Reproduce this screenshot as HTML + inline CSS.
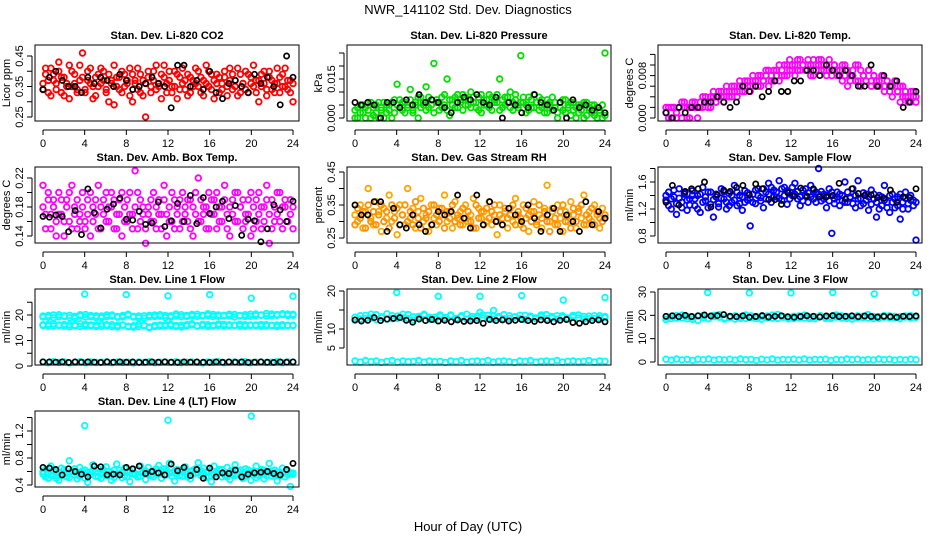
<!DOCTYPE html>
<html><head><meta charset="utf-8">
<style>
html,body{margin:0;padding:0;background:#fff;}
svg{display:block;font-family:"Liberation Sans",Arial,sans-serif;}
</style></head>
<body>
<svg id="chart" width="936" height="540" viewBox="0 0 936 540" xmlns="http://www.w3.org/2000/svg">
<rect x="0" y="0" width="936" height="540" fill="#fff"/>
<text x="468" y="14" text-anchor="middle" font-size="13">NWR_141102 Std. Dev. Diagnostics</text>
<text x="468" y="531" text-anchor="middle" font-size="13">Hour of Day (UTC)</text>
</svg>
<script>
// ---- data ----
const xTicks=[0,4,8,12,16,20,24];
const co2Red=[.36,.39,.33,.41,.37,.34,.40,.38,.32,.36,.42,.35,.39,.33,.37,.46,.34,.40,.36,.31,.38,.35,.41,.37,.33,.39,.36,.29,.38,.34,.40,.35,.37,.32,.39,.36,.41,.33,.37,.25,.38,.35,.40,.34,.36,.39,.42,.33,.37,.35,.40,.31,.38,.36,.34,.39,.33,.37,.41,.35,.38,.32,.36,.40,.34,.37,.39,.33,.36,.38,.35,.41,.34,.37,.32,.39,.36,.40,.33,.38,.35,.37,.30,.39,.36,.34,.40,.37,.33,.36,.38,.35,.41,.34,.37,.30];
const co2Red2=[.34,.41,.37,.32,.39,.36,.43,.33,.38,.35,.31,.40,.36,.34,.42,.38,.33,.37,.41,.35,.32,.39,.36,.40,.34,.30,.37,.42,.35,.38,.33,.39,.36,.41,.30,.37,.34,.39,.32,.36,.40,.33,.37,.42,.35,.31,.38,.36,.40,.33,.35,.39,.34,.41,.37,.32,.38,.35,.36,.40,.33,.37,.42,.35,.39,.31,.36,.38,.34,.40,.32,.37,.39,.35,.41,.33,.36,.34,.39,.36,.42,.33,.37,.35,.40,.32,.38,.34,.36,.41,.33,.39,.35,.37,.33,.36];
const co2Black=[.34,.38,.40,.37,.35,.35,.33,.38,.36,.38,.37,.35,.39,.37,.34,.35,.36,.38,.36,.35,.28,.42,.42,.35,.37,.34,.40,.33,.31,.36,.37,.35,.33,.39,.36,.38,.35,.29,.45,.38];
const presGreen=[.000,.004,.002,.005,.000,.003,.006,.001,.005,.000,.004,.006,.002,.005,.000,.007,.013,.004,.006,.002,.005,.011,.003,.006,.000,.008,.005,.012,.004,.007,.021,.006,.003,.008,.005,.015,.001,.007,.004,.009,.006,.003,.008,.005,.010,.006,.004,.008,.002,.007,.005,.009,.003,.007,.006,.015,.004,.008,.006,.010,.003,.007,.005,.024,.006,.002,.008,.004,.009,.006,.003,.007,.005,.002,.006,.008,.004,.000,.006,.003,.007,.005,.001,.006,.004,.002,.005,.000,.006,.003,.005,.001,.004,.002,.000,.025];
const presGreen2=[.003,.000,.005,.002,.004,.006,.000,.004,.002,.006,.003,.000,.005,.003,.006,.002,.005,.007,.003,.006,.004,.007,.002,.005,.008,.004,.006,.003,.008,.005,.002,.007,.006,.004,.009,.003,.007,.005,.008,.004,.007,.009,.005,.007,.004,.008,.006,.003,.009,.005,.007,.004,.008,.006,.009,.003,.007,.005,.008,.004,.006,.009,.004,.006,.008,.005,.003,.007,.004,.006,.008,.004,.002,.007,.005,.003,.006,.002,.004,.007,.002,.004,.006,.003,.000,.005,.003,.006,.001,.004,.002,.005,.000,.003,.005,.001];
const presBlack=[.006,.005,.006,.005,.000,.006,.006,.004,.007,.005,.009,.006,.007,.006,.004,.002,.006,.008,.007,.009,.006,.005,.008,.000,.006,.005,.002,.004,.009,.006,.005,.003,.006,.000,.007,.004,.005,.003,.004,.002];
const tempMag=[.002,.000,.002,.002,.000,.002,.003,.002,.000,.002,.003,.002,.000,.003,.002,.004,.003,.002,.004,.003,.005,.004,.003,.005,.004,.006,.005,.004,.006,.005,.007,.006,.005,.007,.006,.008,.006,.007,.009,.006,.008,.007,.009,.007,.008,.010,.008,.009,.010,.008,.011,.009,.010,.009,.011,.010,.008,.010,.011,.009,.010,.008,.011,.009,.010,.008,.009,.007,.010,.006,.008,.009,.007,.010,.006,.008,.007,.009,.006,.008,.007,.006,.008,.005,.007,.006,.004,.007,.005,.003,.006,.004,.003,.005,.004,.003];
const tempMag2=[.001,.002,.000,.002,.001,.002,.000,.003,.002,.000,.002,.003,.002,.002,.004,.003,.002,.004,.005,.003,.004,.005,.004,.006,.005,.004,.006,.005,.007,.006,.005,.007,.006,.008,.007,.006,.008,.007,.008,.009,.007,.009,.008,.010,.009,.008,.010,.011,.009,.010,.009,.011,.010,.009,.010,.008,.011,.009,.010,.011,.009,.010,.009,.008,.010,.009,.008,.010,.008,.009,.007,.008,.010,.007,.009,.008,.007,.009,.007,.008,.006,.007,.008,.006,.007,.005,.006,.007,.005,.006,.004,.005,.004,.003,.005,.004];
const tempBlack=[.001,.000,.002,.001,.002,.002,.003,.003,.004,.003,.002,.003,.006,.005,.006,.004,.005,.007,.005,.005,.007,.007,.009,.009,.008,.010,.009,.008,.009,.008,.006,.006,.010,.006,.008,.006,.007,.002,.003,.005];
const ambMag=[.21,.17,.19,.15,.18,.16,.20,.17,.14,.19,.16,.21,.18,.15,.17,.20,.16,.19,.14,.18,.17,.21,.15,.19,.16,.18,.20,.15,.17,.19,.14,.18,.16,.20,.17,.23,.15,.19,.17,.13,.18,.16,.20,.15,.19,.17,.21,.14,.18,.16,.19,.17,.15,.20,.18,.16,.19,.14,.17,.22,.16,.18,.15,.20,.17,.19,.15,.18,.16,.21,.17,.14,.19,.16,.20,.18,.15,.17,.19,.14,.18,.16,.20,.15,.18,.21,.13,.19,.16,.17,.20,.15,.18,.16,.19,.15];
const ambMag2=[.18,.15,.20,.17,.19,.14,.17,.19,.16,.18,.20,.15,.17,.19,.16,.18,.15,.17,.20,.16,.19,.15,.18,.17,.20,.16,.18,.19,.15,.17,.20,.16,.19,.17,.15,.18,.20,.16,.18,.15,.17,.19,.16,.18,.17,.15,.19,.17,.16,.20,.15,.18,.19,.16,.17,.19,.15,.18,.20,.16,.19,.17,.18,.15,.19,.17,.20,.16,.18,.19,.15,.18,.17,.20,.16,.18,.19,.16,.17,.20,.15,.19,.17,.18,.16,.19,.17,.15,.18,.20,.16,.18,.19,.16,.17,.18];
const ambBlack=[.167,.166,.169,.167,.146,.175,.142,.205,.172,.151,.177,.184,.192,.163,.162,.174,.156,.158,.187,.153,.161,.185,.160,.196,.157,.193,.171,.180,.188,.164,.182,.141,.163,.161,.132,.150,.183,.176,.160,.188];
const rhOrange=[.32,.30,.35,.28,.33,.40,.31,.29,.36,.33,.27,.34,.31,.38,.30,.33,.26,.35,.32,.29,.40,.31,.34,.28,.33,.37,.30,.32,.27,.35,.31,.29,.34,.32,.38,.30,.33,.28,.36,.31,.33,.29,.35,.30,.32,.37,.28,.34,.31,.33,.30,.36,.29,.32,.26,.35,.31,.33,.28,.34,.30,.37,.32,.29,.35,.31,.27,.33,.36,.30,.32,.28,.34,.41,.30,.33,.29,.35,.31,.27,.33,.30,.36,.32,.28,.34,.31,.38,.29,.33,.30,.35,.32,.28,.34,.31];
const rhOrange2=[.29,.34,.31,.33,.28,.35,.30,.33,.29,.32,.35,.30,.33,.28,.35,.31,.34,.29,.32,.35,.30,.33,.29,.36,.31,.28,.34,.31,.33,.29,.35,.32,.30,.34,.28,.33,.31,.35,.30,.32,.29,.34,.31,.33,.30,.28,.35,.31,.33,.29,.34,.31,.33,.35,.30,.32,.29,.34,.31,.32,.35,.29,.33,.31,.28,.34,.32,.30,.33,.29,.35,.31,.33,.30,.27,.34,.31,.29,.33,.35,.30,.32,.28,.34,.30,.33,.35,.29,.32,.31,.34,.29,.33,.31,.30,.32];
const rhBlack=[.35,.32,.32,.36,.36,.27,.34,.29,.28,.32,.29,.27,.29,.33,.32,.33,.38,.31,.28,.38,.29,.36,.30,.29,.34,.32,.30,.35,.31,.27,.32,.34,.27,.32,.30,.27,.36,.29,.33,.31];
const flowBlue=[1.33,1.45,1.20,1.38,1.12,1.50,1.30,1.42,1.18,1.35,1.47,1.25,1.40,1.15,1.52,1.32,1.22,1.45,1.08,1.38,1.28,1.50,1.35,1.20,1.43,1.30,1.55,1.25,1.40,1.18,1.47,1.33,0.95,1.42,1.28,1.50,1.37,1.22,1.45,1.58,1.30,1.48,1.38,1.62,1.33,1.52,1.27,1.45,1.40,1.58,1.35,1.25,1.48,1.40,1.30,1.55,1.35,1.45,1.80,1.32,1.42,1.22,1.50,0.84,1.35,1.45,1.25,1.40,1.60,1.30,1.38,1.50,1.22,1.62,1.35,1.28,1.42,1.18,1.48,1.35,1.08,1.40,1.25,1.55,1.30,1.15,1.42,1.22,1.38,1.05,1.30,1.45,1.20,1.33,1.25,0.74];
const flowBlue2=[1.40,1.25,1.35,1.48,1.28,1.36,1.22,1.44,1.33,1.26,1.40,1.35,1.20,1.42,1.30,1.38,1.45,1.27,1.34,1.42,1.23,1.36,1.46,1.30,1.25,1.40,1.33,1.45,1.28,1.38,1.30,1.44,1.36,1.30,1.48,1.40,1.32,1.50,1.35,1.42,1.52,1.38,1.45,1.36,1.50,1.40,1.47,1.35,1.52,1.42,1.46,1.38,1.32,1.50,1.44,1.38,1.48,1.30,1.42,1.46,1.35,1.40,1.32,1.45,1.28,1.38,1.42,1.32,1.30,1.45,1.36,1.28,1.40,1.35,1.25,1.44,1.33,1.38,1.27,1.42,1.30,1.20,1.38,1.33,1.22,1.40,1.30,1.35,1.25,1.42,1.20,1.36,1.28,1.40,1.33,1.30];
const flowBlack=[1.30,1.55,1.26,1.46,1.50,1.50,1.60,1.23,1.41,1.48,1.46,1.52,1.55,1.41,1.57,1.50,1.34,1.34,1.27,1.44,1.39,1.51,1.39,1.50,1.38,1.38,1.40,1.58,1.35,1.50,1.43,1.40,1.41,1.37,1.36,1.48,1.30,1.38,1.37,1.50];
const line1Upper=[19.2,19.8,18.9,20.1,19.4,19.9,18.8,19.6,20.2,19.3,19.7,18.9,20.0,19.5,19.1,19.8,20.3,19.2,19.6,18.8,19.9,19.4,20.1,19.0,19.7,20.4,19.3,19.8,20.2,19.5,19.9,20.5,19.4,20.0,19.6,20.3,19.2,19.8,20.1,19.5,20.4,19.9,20.6,19.7,20.2,20.5,19.8,20.3];
const line1Upper2=[19.6,19.1,20.0,19.3,19.7,18.9,19.5,20.1,19.2,19.8,19.0,19.6,19.3,20.0,19.4,19.2,19.9,19.5,18.9,19.7,19.3,20.0,19.5,19.8,19.2,19.6,20.1,19.4,19.7,20.3,19.6,19.8,20.2,19.5,19.9,19.6,20.2,19.7,19.4,20.3,19.8,20.0,19.6,20.4,19.9,20.1,20.4,19.9];
const line1Lower=[16.2,15.6,16.5,15.9,16.3,15.4,16.0,16.6,15.7,16.1,15.5,16.4,15.8,16.2,15.3,16.0,15.6,15.2,16.3,15.8,15.0,15.5,16.1,15.7,16.4,15.9,15.3,16.2,16.6,15.8,16.3,15.5,16.0,16.5,15.7,16.2,15.9,16.4,15.6,16.1,15.8,16.3,15.7,16.0,15.5,16.2,15.8,16.0];
const line1Lower2=[15.9,16.3,15.7,16.1,15.6,16.2,15.8,15.5,16.3,15.7,16.0,15.6,16.2,15.5,15.9,16.1,15.4,15.8,15.5,16.0,15.3,15.9,15.6,16.2,15.8,15.5,16.0,15.7,16.1,15.6,15.9,16.2,15.7,15.9,16.3,15.8,16.0,15.7,16.2,15.9,16.1,15.6,16.2,15.8,16.1,15.7,16.0,15.8];
const line1Low=[1.6,1.3,1.7,1.4,1.6,1.2,1.5,1.7,1.3,1.6,1.4,1.5,1.7,1.3,1.6,1.4,1.5,1.2,1.6,1.4,1.7,1.3,1.5,1.6,1.4,1.7,1.3,1.5,1.6,1.4,1.2,1.6,1.5,1.7,1.3,1.5,1.6,1.4,1.7,1.3,1.5,1.6,1.4,1.5,1.7,1.3,1.6,1.5];
const line1OutHrs=[4,8,12,16,20,24];
const line1Out=[28.2,28.0,27.5,28.0,26.6,27.4];
const line1Black=[1.6,1.6,1.5,1.6,1.4,1.6,1.5,1.6,1.5,1.4,1.6,1.5,1.6,1.5,1.6,1.4,1.5,1.6,1.5,1.6,1.5,1.4,1.6,1.5,1.6,1.5,1.4,1.6,1.5,1.6,1.5,1.6,1.4,1.5,1.6,1.5,1.4,1.6,1.5,1.6];
const line2Band=[12.3,13.5,12.8,13.9,12.5,13.2,14.0,12.7,13.4,12.9,13.8,12.4,13.3,13.9,12.6,13.1,13.7,12.8,13.5,12.5,13.2,13.9,12.7,13.4,12.9,13.6,12.6,13.3,13.8,12.8,13.1,13.6,12.5,13.4,12.9,13.7,12.7,13.3,12.6,13.5,12.9,13.2,13.7,12.6,13.4,12.8,13.5,13.0];
const line2Band2=[13.1,12.6,13.6,12.9,13.8,13.0,12.6,13.5,12.8,13.9,12.7,13.2,12.9,13.6,13.1,12.5,13.4,13.0,13.7,12.8,13.5,12.6,13.3,12.9,13.7,12.8,13.4,13.0,12.7,13.5,13.2,12.8,13.6,13.1,12.7,13.3,13.8,12.9,13.5,13.1,12.7,13.6,12.9,13.3,12.7,13.5,12.9,13.3];
const line2Low=[1.6,1.3,1.7,1.4,1.6,1.2,1.5,1.7,1.3,1.6,1.4,1.5,1.7,1.3,1.6,1.4,1.5,1.2,1.6,1.4,1.7,1.3,1.5,1.6,1.4,1.7,1.3,1.5,1.6,1.4,1.2,1.6,1.5,1.7,1.3,1.5,1.6,1.4,1.7,1.3,1.5,1.6,1.4,1.5,1.7,1.3,1.6,1.5];
const line2OutHrs=[4,8,12,12,13.3,16,20,24];
const line2Out=[19.6,18.6,18.6,14.4,14.9,18.8,17.6,18.3];
const line2Black=[12.4,12.1,12.3,13.0,12.2,12.6,12.8,13.0,12.3,11.8,12.6,12.2,12.5,12.1,12.3,11.9,12.4,12.0,12.1,12.2,11.5,12.5,12.2,12.4,12.1,12.3,12.5,12.2,12.0,12.4,12.2,11.9,12.3,12.5,11.7,11.5,11.9,12.2,12.4,11.9];
const line3Band=[18.2,19.6,18.8,20.1,18.5,19.3,17.8,19.9,18.6,19.4,20.3,18.4,19.1,19.8,18.7,20.2,18.9,19.5,18.3,19.7,18.8,20.4,19.2,18.5,19.6,18.9,20.1,18.6,19.4,19.9,18.7,19.3,20.2,18.8,19.5,18.4,19.8,19.0,20.3,18.6,19.4,19.9,18.9,19.6,18.5,19.3,19.9,19.1];
const line3Band2=[19.3,18.6,19.9,18.9,19.5,18.3,19.7,19.0,18.5,20.0,19.2,18.8,19.6,18.4,19.3,18.7,19.8,18.6,19.4,18.9,20.1,18.7,19.5,19.0,18.6,19.7,18.8,19.2,18.5,19.6,19.0,18.6,19.3,19.8,18.7,19.4,18.9,19.6,18.8,19.5,18.7,19.2,19.8,18.9,19.4,19.7,18.8,19.4];
const line3Low=[1.2,0.8,1.3,0.9,1.1,0.7,1.2,1.0,1.3,0.8,1.1,0.9,1.2,0.8,1.3,1.0,1.1,0.7,1.2,0.9,1.3,0.8,1.1,1.0,1.2,0.9,1.3,0.8,1.1,1.0,1.2,0.7,1.1,0.9,1.3,1.0,1.2,0.8,1.1,0.9,1.3,1.0,1.2,0.8,1.1,0.9,1.2,1.0];
const line3OutHrs=[4,8,12,16,20,24];
const line3Out=[29.8,29.6,29.6,29.8,29.2,29.7];
const line3Black=[19.6,19.8,19.4,20.0,19.5,19.8,20.2,19.7,19.9,20.3,19.6,19.4,19.8,19.2,19.5,19.9,19.3,19.6,19.8,19.4,19.2,19.5,19.8,19.6,19.3,19.7,19.9,19.5,19.6,19.8,19.4,19.7,19.5,19.3,19.6,19.4,19.2,19.6,19.5,19.7];
const line4Cyan=[0.56,0.63,0.50,0.68,0.54,0.60,0.47,0.65,0.58,0.52,0.76,0.61,0.55,0.49,0.66,0.57,0.62,0.44,0.59,0.70,0.53,0.64,0.50,0.58,0.67,0.55,0.47,0.62,0.71,0.56,0.51,0.65,0.59,0.45,0.63,0.57,0.52,0.68,0.60,0.48,0.66,0.54,0.61,0.57,0.69,0.50,0.64,0.55,0.72,0.58,0.46,0.63,0.60,0.53,0.67,0.56,0.49,0.62,0.58,0.73,0.54,0.65,0.51,0.60,0.45,0.68,0.57,0.63,0.52,0.59,0.66,0.48,0.61,0.70,0.55,0.62,0.50,0.64,0.57,0.47,0.60,0.68,0.54,0.63,0.49,0.58,0.72,0.53,0.62,0.46,0.59,0.65,0.52,0.61,0.38,0.58];
const line4Cyan2=[0.60,0.52,0.58,0.55,0.62,0.50,0.59,0.54,0.63,0.57,0.51,0.60,0.64,0.56,0.53,0.61,0.50,0.58,0.55,0.62,0.59,0.52,0.57,0.63,0.54,0.60,0.58,0.51,0.56,0.62,0.59,0.54,0.52,0.61,0.57,0.55,0.63,0.53,0.58,0.61,0.56,0.59,0.52,0.64,0.57,0.60,0.55,0.62,0.58,0.53,0.61,0.57,0.54,0.63,0.59,0.52,0.60,0.56,0.64,0.58,0.61,0.55,0.59,0.53,0.62,0.56,0.60,0.58,0.63,0.55,0.52,0.60,0.57,0.54,0.61,0.56,0.59,0.53,0.62,0.58,0.55,0.51,0.60,0.57,0.62,0.54,0.58,0.61,0.55,0.59,0.53,0.57,0.60,0.55,0.58,0.56];
const line4OutHrs=[4,12,20];
const line4Out=[1.28,1.36,1.42];
const line4Black=[0.66,0.65,0.63,0.55,0.64,0.60,0.56,0.52,0.68,0.67,0.55,0.56,0.55,0.66,0.64,0.68,0.57,0.60,0.58,0.55,0.71,0.61,0.66,0.54,0.63,0.50,0.65,0.52,0.58,0.57,0.62,0.52,0.56,0.58,0.59,0.60,0.57,0.55,0.63,0.72];

// ---- layout ----
const NS="http://www.w3.org/2000/svg";
const svg=document.getElementById('chart');
const COLL=[35,347,658], ROWT=[45,167,289,411], BW=264, BH=76;
function mk(tag,attrs,parent){const e=document.createElementNS(NS,tag);for(const k in attrs)e.setAttribute(k,attrs[k]);(parent||svg).appendChild(e);return e;}

const panels=[
 {key:'co2',title:'Stan. Dev. Li-820 CO2',c:0,r:0,ylab:'Licor ppm',ya:[0.25,72,0.45,11],ticks:[0.25,0.30,0.35,0.40,0.45],labs:[[0.25,'0.25'],[0.35,'0.35'],[0.45,'0.45']],
  series:[{col:'#ff0000',v:co2Red},{col:'#ff0000',v:co2Red2},{col:'#000',v:co2Black}]},
 {key:'pressure',title:'Stan. Dev. Li-820 Pressure',c:1,r:0,ylab:'kPa',ya:[0,73,0.015,34],ticks:[0,0.005,0.010,0.015,0.020,0.025],labs:[[0,'0.000'],[0.015,'0.015']],
  series:[{col:'#00e000',v:presGreen},{col:'#00e000',v:presGreen2},{col:'#000',v:presBlack}]},
 {key:'temp',title:'Stan. Dev. Li-820 Temp.',c:2,r:0,ylab:'degrees C',ya:[0,73,0.010,20],ticks:[0,0.002,0.004,0.006,0.008,0.010,0.012],labs:[[0,'0.000'],[0.008,'0.008']],
  series:[{col:'#ff00ff',v:tempMag},{col:'#ff00ff',v:tempMag2},{col:'#000',v:tempBlack}]},
 {key:'amb',title:'Stan. Dev. Amb. Box Temp.',c:0,r:1,ylab:'degrees C',ya:[0.14,69,0.22,11],ticks:[0.14,0.16,0.18,0.20,0.22],labs:[[0.14,'0.14'],[0.18,'0.18'],[0.22,'0.22']],
  series:[{col:'#ff00ff',v:ambMag},{col:'#ff00ff',v:ambMag2},{col:'#000',v:ambBlack}]},
 {key:'rh',title:'Stan. Dev. Gas Stream RH',c:1,r:1,ylab:'percent',ya:[0.25,71,0.45,5],ticks:[0.25,0.30,0.35,0.40,0.45],labs:[[0.25,'0.25'],[0.35,'0.35'],[0.45,'0.45']],
  series:[{col:'#ffa500',v:rhOrange},{col:'#ff9000',v:rhOrange2},{col:'#000',v:rhBlack}]},
 {key:'flow',title:'Stan. Dev. Sample Flow',c:2,r:1,ylab:'ml/min',ya:[0.8,69,1.6,15],ticks:[0.8,1.0,1.2,1.4,1.6,1.8],labs:[[0.8,'0.8'],[1.2,'1.2'],[1.6,'1.6']],
  series:[{col:'#0000ff',v:flowBlue},{col:'#0000ff',v:flowBlue2},{col:'#000',v:flowBlack}]},
 {key:'line1',title:'Stan. Dev. Line 1 Flow',c:0,r:2,ylab:'ml/min',ya:[0,77,20,26],ticks:[0,5,10,15,20,25],labs:[[0,'0'],[10,'10'],[20,'20']],
  series:[{col:'#00ffff',v:line1Upper},{col:'#00ffff',v:line1Upper2},{col:'#00ffff',v:line1Lower},{col:'#00ffff',v:line1Lower2},{col:'#00ffff',v:line1Low},{col:'#00ffff',v:line1Out,h:line1OutHrs},{col:'#000',v:line1Black}]},
 {key:'line2',title:'Stan. Dev. Line 2 Flow',c:1,r:2,ylab:'ml/min',ya:[5,59,20,2],ticks:[5,10,15,20],labs:[[5,'5'],[10,'10'],[20,'20']],
  series:[{col:'#00ffff',v:line2Band},{col:'#00ffff',v:line2Band2},{col:'#00ffff',v:line2Low},{col:'#00ffff',v:line2Out,h:line2OutHrs},{col:'#000',v:line2Black}]},
 {key:'line3',title:'Stan. Dev. Line 3 Flow',c:2,r:2,ylab:'ml/min',ya:[0,73,30,3],ticks:[0,10,20,30],labs:[[0,'0'],[10,'10'],[20,'20'],[30,'30']],
  series:[{col:'#00ffff',v:line3Band},{col:'#00ffff',v:line3Band2},{col:'#00ffff',v:line3Low},{col:'#00ffff',v:line3Out,h:line3OutHrs},{col:'#000',v:line3Black}]},
 {key:'line4',title:'Stan. Dev. Line 4 (LT) Flow',c:0,r:3,ylab:'ml/min',ya:[0.4,74,1.2,20],ticks:[0.4,0.6,0.8,1.0,1.2,1.4],labs:[[0.4,'0.4'],[0.8,'0.8'],[1.2,'1.2']],
  series:[{col:'#00ffff',v:line4Cyan},{col:'#00ffff',v:line4Cyan2},{col:'#00ffff',v:line4Out,h:line4OutHrs},{col:'#000',v:line4Black}]}
];

panels.forEach(p=>{
  const L=COLL[p.c], T=ROWT[p.r];
  const g=mk('g',{});
  
  
  const xs=h=>L+8+h*(250/24);
  const ys=v=>T+p.ya[1]+(v-p.ya[0])*(p.ya[3]-p.ya[1])/(p.ya[2]-p.ya[0]);
  const t=mk('text',{x:L+BW/2,y:T-6,'text-anchor':'middle','font-size':'11','font-weight':'bold'},g);
  t.textContent=p.title;
  
  
  p.series.forEach((s,si)=>{
    const black=s.col==='#000';
    const sg=mk('g',{fill:'none',stroke:s.col,'stroke-width':black?1.7:1.8},g);
    
    
    s.v.forEach((v,i)=>{
      const h=s.h?s.h[i]:i*24/(s.v.length-1);
      const c=mk('circle',{cx:xs(h).toFixed(1),cy:ys(v).toFixed(1),r:black?2.6:2.8},sg);
      
      
    });
  });
  const b=mk('rect',{x:L,y:T,width:BW,height:BH,fill:'none',stroke:'#000','stroke-width':1},g);
  
  
  const xa=mk('g',{stroke:'#000','stroke-width':1},g);
  
  
  const yb=T+BH+9;
  mk('line',{x1:xs(0),x2:xs(24),y1:yb,y2:yb},xa);
  xTicks.forEach(h=>{
    mk('line',{x1:xs(h),x2:xs(h),y1:yb,y2:yb+5},xa);
    const tl=mk('text',{x:xs(h),y:yb+17,'text-anchor':'middle','font-size':'11',stroke:'none',fill:'#000'},xa);
    tl.textContent=String(h);
    
    
  });
  const ya=mk('g',{stroke:'#000','stroke-width':1},g);
  
  
  const ax=L-3;
  const yt=p.ticks.map(ys);
  mk('line',{x1:ax,x2:ax,y1:Math.min(...yt),y2:Math.max(...yt)},ya);
  p.ticks.forEach(v=>mk('line',{x1:ax,x2:ax-5,y1:ys(v),y2:ys(v)},ya));
  p.labs.forEach(([v,s])=>{
    const yy=ys(v);
    const tl=mk('text',{x:ax-9,y:yy,'text-anchor':'middle','font-size':'11',stroke:'none',fill:'#000',transform:`rotate(-90 ${ax-9} ${yy})`},ya);
    tl.textContent=s;
    
    
  });
  const cy=T+BH/2;
  const yl=mk('text',{x:L-25,y:cy,'text-anchor':'middle','font-size':'11',fill:'#000',transform:`rotate(-90 ${L-25} ${cy})`},g);
  yl.textContent=p.ylab;
  
  
});
</script>
</body></html>
